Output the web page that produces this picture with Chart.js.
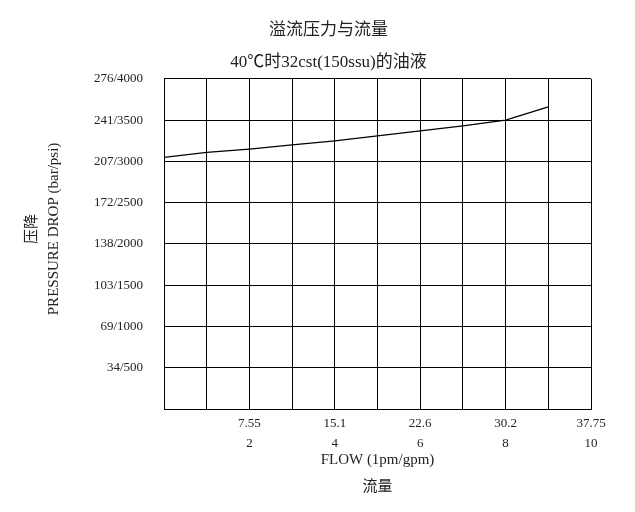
<!DOCTYPE html>
<html>
<head>
<meta charset="utf-8">
<script src="https://cdn.jsdelivr.net/npm/chart.js@4/dist/chart.umd.min.js"></script>
<style>
  html, body { margin: 0; padding: 0; background: #fff; }
  #wrap { width: 635px; height: 512px; }
</style>
</head>
<body>
<div id="wrap"><canvas id="reliefChart" width="635" height="512"></canvas></div>
<script>
// flow in gpm, pressure drop in psi
const flowGpm = [0, 1, 2, 3, 4, 5, 6, 7, 8, 9];
const pressurePsi = [3050, 3110, 3150, 3200, 3250, 3310, 3370, 3430, 3500, 3660];

// tick labels: lpm over gpm, bar over psi
const xGridGpm = [0, 1, 2, 3, 4, 5, 6, 7, 8, 9, 10];
const xTickGpm = [2, 4, 6, 8, 10];
const xTickLpm = ['7.55', '15.1', '22.6', '30.2', '37.75'];
const yTickPsi = [500, 1000, 1500, 2000, 2500, 3000, 3500, 4000];
const yTickLabels = ['34/500', '69/1000', '103/1500', '138/2000', '172/2500', '207/3000', '241/3500', '276/4000'];

const FONT = "'Liberation Serif', 'Noto Sans CJK SC', serif";

// the original title sits right of the canvas centre, and the y title a bit above the axis centre
const nudgeTitles = {
    id: 'nudgeTitles',
    afterLayout(chart) {
        const t = chart.titleBlock;
        if (t) { t.left += 33; t.right += 33; }
        const y = chart.scales.y;
        if (y && !y._nudged) {
            const orig = y.drawTitle;
            y.drawTitle = function () {
                this.ctx.save();
                this.ctx.translate(0, -15);
                orig.call(this);
                this.ctx.restore();
            };
            y._nudged = true;
        }
    }
};

const ctx = document.getElementById('reliefChart').getContext('2d');
new Chart(ctx, {
    type: 'line',
    data: {
        datasets: [{
            data: flowGpm.map((f, i) => ({ x: f, y: pressurePsi[i] })),
            borderColor: '#000',
            borderWidth: 1.3,
            pointRadius: 0,
            tension: 0,
            fill: false
        }]
    },
    plugins: [nudgeTitles],
    options: {
        responsive: false,
        animation: false,
        layout: { padding: { left: 0, right: 44, top: 0, bottom: 0 } },
        plugins: {
            legend: { display: false },
            tooltip: { enabled: false },
            title: {
                display: true,
                text: ['溢流压力与流量', '40℃时32cst(150ssu)的油液'],
                color: '#222',
                font: { family: FONT, size: 17, weight: 'normal', lineHeight: 1.88 },
                padding: { top: 15, bottom: 0 }
            }
        },
        scales: {
            x: {
                type: 'linear',
                min: 0,
                max: 10,
                afterFit: (scale) => { scale.height = 103; },
                afterBuildTicks: (scale) => {
                    scale.ticks = xGridGpm.map(v => ({ value: v }));
                },
                ticks: {
                    padding: 5,
                    maxRotation: 0,
                    autoSkip: false,
                    color: '#222',
                    font: { family: FONT, size: 13, lineHeight: 1.54 },
                    callback: (value) => {
                        const idx = xTickGpm.indexOf(value);
                        return idx >= 0 ? [xTickLpm[idx], String(value)] : '';
                    }
                },
                grid: { color: '#000', lineWidth: 1, drawTicks: false },
                border: { display: true, color: '#000', width: 1 },
                title: {
                    display: true,
                    text: ['FLOW (1pm/gpm)', '流量'],
                    color: '#222',
                    font: { family: FONT, size: 15, lineHeight: 1.8 },
                    padding: { top: 0, bottom: 11 }
                }
            },
            y: {
                min: 0,
                max: 4000,
                afterFit: (scale) => { scale.width = 164; },
                ticks: {
                    stepSize: 500,
                    padding: 21,
                    color: '#222',
                    font: { family: FONT, size: 13 },
                    callback: (value) => {
                        const idx = yTickPsi.indexOf(value);
                        return idx >= 0 ? yTickLabels[idx] : '';
                    }
                },
                grid: { color: '#000', lineWidth: 1, drawTicks: false },
                border: { display: true, color: '#000', width: 1 },
                title: {
                    display: true,
                    text: ['压降', 'PRESSURE DROP (bar/psi)'],
                    color: '#222',
                    font: { family: FONT, size: 15, lineHeight: 1.47 },
                    padding: { top: 21, bottom: 0 }
                }
            }
        }
    }
});
</script>
</body>
</html>
